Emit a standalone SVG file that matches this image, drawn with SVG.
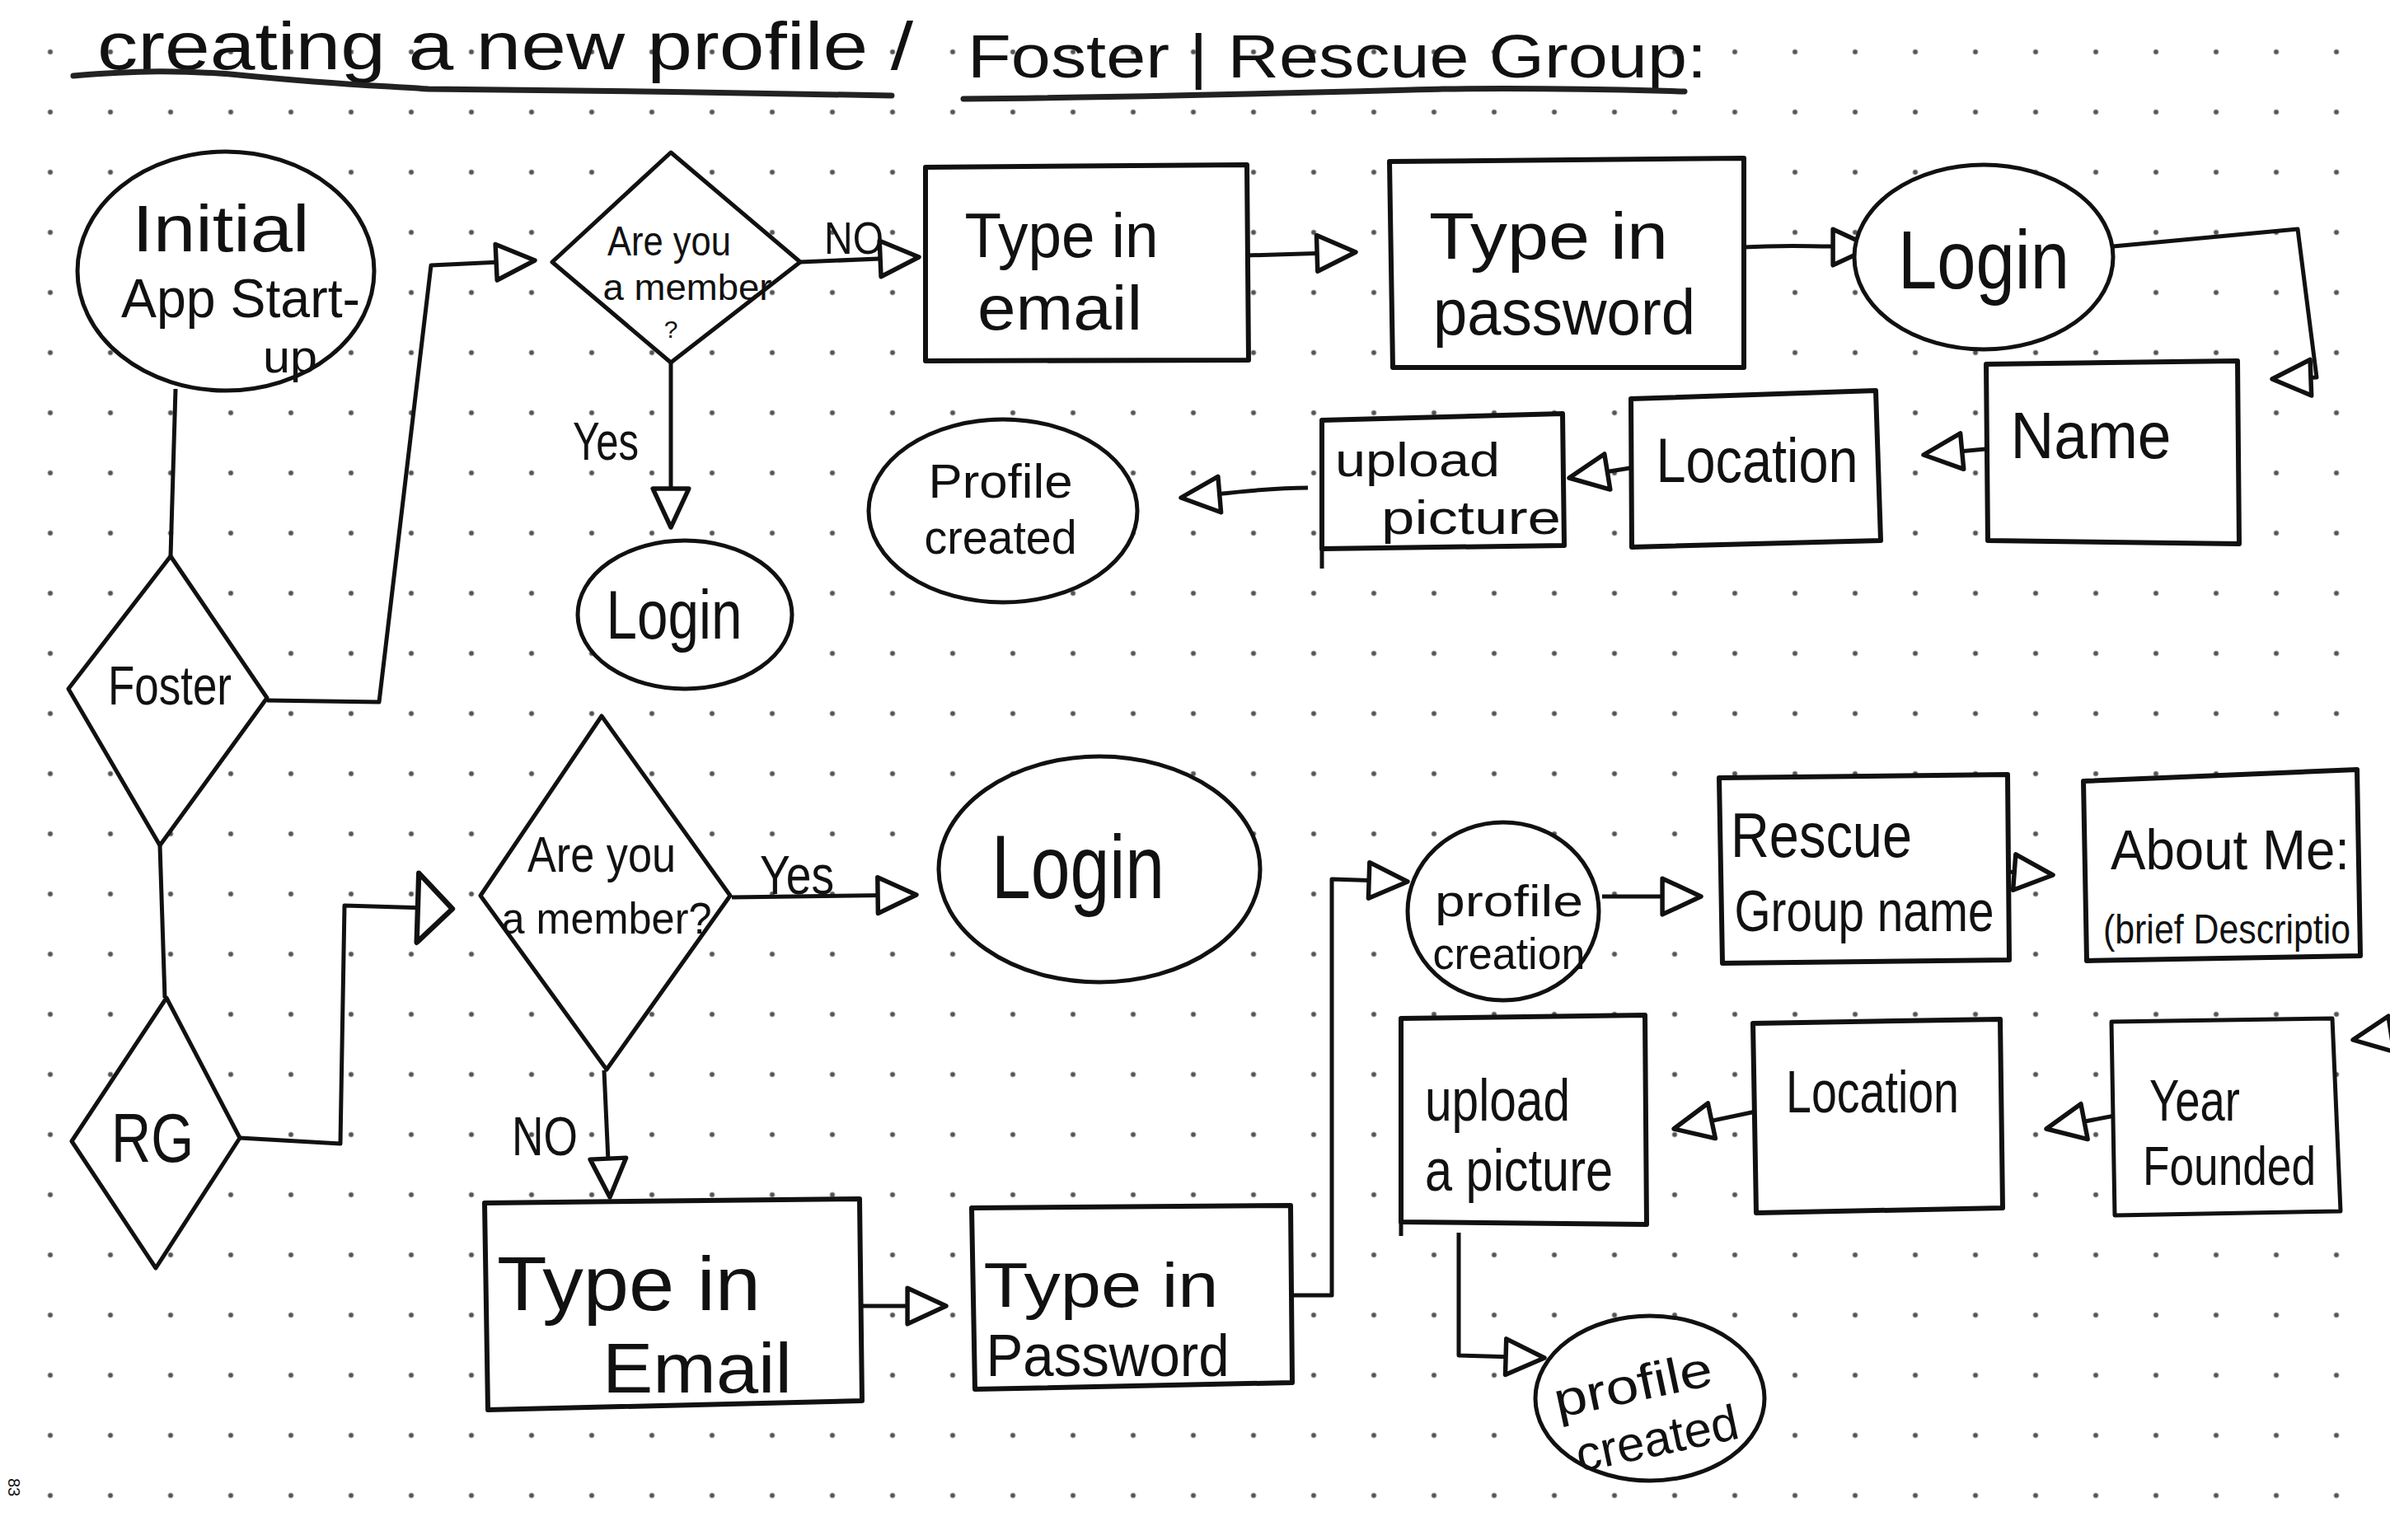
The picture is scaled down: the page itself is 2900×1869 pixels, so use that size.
<svg xmlns="http://www.w3.org/2000/svg" width="2900" height="1869" viewBox="0 0 2900 1869">
<defs>
<pattern id="dots" x="24.5" y="26.5" width="73" height="73" patternUnits="userSpaceOnUse">
<circle cx="36.5" cy="36.5" r="3" fill="#555"/>
</pattern>
<marker id="ah" markerUnits="userSpaceOnUse" markerWidth="60" markerHeight="60" viewBox="-5 -5 55 55" refX="45" refY="22" orient="auto">
<path d="M2,2 L45,22 L2,42 Z" fill="#fff" stroke="#111" stroke-width="5" stroke-linejoin="round"/>
</marker>
<marker id="ahL" markerUnits="userSpaceOnUse" markerWidth="60" markerHeight="100" viewBox="-5 -5 55 95" refX="42" refY="42" orient="auto">
<path d="M2,2 L42,42 L2,82 Z" fill="#fff" stroke="#111" stroke-width="6" stroke-linejoin="round"/>
</marker>
<style>
.s{fill:#fff;stroke:#111;stroke-width:5;stroke-linejoin:round}
.b{fill:#fff;stroke:#111;stroke-width:6;stroke-linejoin:round}
.c{fill:none;stroke:#111;stroke-width:5;stroke-linejoin:round;marker-end:url(#ah)}
.n{fill:none;stroke:#111;stroke-width:5;stroke-linejoin:round}
.u{fill:none;stroke:#222;stroke-width:7;stroke-linecap:round}
text{font-family:'Liberation Sans',sans-serif;fill:#111;text-anchor:middle}
.l{text-anchor:start}
</style>
</defs>
<rect width="2900" height="1869" fill="#fff"/>
<rect width="2900" height="1869" fill="url(#dots)"/>

<g id="title">
<text class="l" x="118" y="84" font-size="82" textLength="990" lengthAdjust="spacingAndGlyphs">creating a new profile /</text>
<text class="l" x="1174" y="94" font-size="74" textLength="897" lengthAdjust="spacingAndGlyphs">Foster | Rescue Group:</text>
<path class="u" d="M89,92 C160,86 220,84 300,92 C400,102 460,104 520,108 C700,110 900,112 1082,116"/>
<path class="u" d="M1169,120 C1400,118 1600,112 1750,108 C1900,106 2000,110 2044,111"/>
</g>

<g id="connectors">
<path class="n" d="M213,472 L207,675"/>
<path class="c" d="M324,850 L460,852 L523,322 L649,316"/>
<path class="c" d="M971,318 L1115,312"/>
<path class="c" d="M814,440 L814,640"/>
<path class="c" d="M1513,310 L1645,306"/>
<path class="c" d="M2116,300 C2180,296 2220,300 2271,300"/>
<path class="c" d="M2564,299 L2788,278 L2811,458 L2757,460"/>
<path class="c" d="M2409,545 L2334,552"/>
<path class="c" d="M1978,568 L1904,580"/>
<path class="c" d="M1587,592 C1530,592 1480,600 1433,604"/>
<path class="n" d="M194,1026 L200,1211"/>
<path style="fill:none;stroke:#111;stroke-width:5;stroke-linejoin:round;marker-end:url(#ahL)" d="M291,1381 L413,1388 L418,1099 L549,1103"/>
<path class="c" d="M888,1089 L1112,1086"/>
<path class="c" d="M733,1299 L740,1453"/>
<path class="c" d="M1046,1585 L1148,1585"/>
<path class="c" d="M1568,1572 L1616,1572 L1616,1067 L1708,1070"/>
<path class="c" d="M1944,1088 L2064,1088"/>
<path class="c" d="M2437,1058 L2491,1062"/>
<path class="c" d="M2900,1255 L2855,1262"/>
<path class="c" d="M2566,1354 L2483,1370"/>
<path class="c" d="M2135,1348 L2031,1370"/>
<path class="c" d="M1770,1496 L1770,1645 L1874,1648"/>
</g>

<g id="n-initial">
<ellipse class="s" cx="274" cy="329" rx="180" ry="145"/>
<text x="268" y="305" font-size="80" textLength="215" lengthAdjust="spacingAndGlyphs">Initial</text>
<text x="292" y="385" font-size="66" textLength="290" lengthAdjust="spacingAndGlyphs">App Start-</text>
<text x="352" y="452" font-size="56" textLength="66" lengthAdjust="spacingAndGlyphs">up</text>
</g>

<g id="n-foster">
<path class="s" d="M207,675 L324,847 L194,1026 L83,836 Z"/>
<text x="206" y="855" font-size="66" textLength="150" lengthAdjust="spacingAndGlyphs">Foster</text>
</g>

<g id="n-member1">
<path class="s" d="M814,185 L971,318 L814,440 L670,318 Z"/>
<text x="812" y="310" font-size="50" textLength="150" lengthAdjust="spacingAndGlyphs">Are you</text>
<text x="834" y="364" font-size="44" textLength="205" lengthAdjust="spacingAndGlyphs">a member</text>
<text x="814" y="410" font-size="30">?</text>
<text x="1036" y="308" font-size="56" textLength="72" lengthAdjust="spacingAndGlyphs">NO</text>
<text x="735" y="558" font-size="64" textLength="80" lengthAdjust="spacingAndGlyphs">Yes</text>
</g>

<g id="n-login1">
<ellipse class="s" cx="831" cy="746" rx="130" ry="90"/>
<text x="818" y="775" font-size="84" textLength="165" lengthAdjust="spacingAndGlyphs">Login</text>
</g>

<g id="n-email1">
<path class="b" d="M1123,203 L1513,200 L1515,437 L1123,438 Z"/>
<text x="1288" y="312" font-size="76" textLength="235" lengthAdjust="spacingAndGlyphs">Type in</text>
<text x="1286" y="400" font-size="76" textLength="200" lengthAdjust="spacingAndGlyphs">email</text>
</g>

<g id="n-password1">
<path class="b" d="M1686,196 L2116,192 L2116,446 L1690,446 Z"/>
<text x="1879" y="314" font-size="80" textLength="290" lengthAdjust="spacingAndGlyphs">Type in</text>
<text x="1898" y="406" font-size="78" textLength="318" lengthAdjust="spacingAndGlyphs">password</text>
</g>

<g id="n-login2">
<ellipse class="s" cx="2407" cy="312" rx="157" ry="112"/>
<text x="2407" y="350" font-size="100" textLength="208" lengthAdjust="spacingAndGlyphs">Login</text>
</g>

<g id="n-name1">
<path class="b" d="M2410,442 L2715,438 L2717,660 L2412,656 Z"/>
<text x="2537" y="556" font-size="80" textLength="195" lengthAdjust="spacingAndGlyphs">Name</text>
</g>

<g id="n-location1">
<path class="b" d="M1979,484 L2276,474 L2282,656 L1980,664 Z"/>
<text x="2132" y="585" font-size="76" textLength="245" lengthAdjust="spacingAndGlyphs">Location</text>
</g>

<g id="n-upload1">
<path class="b" d="M1604,510 L1896,502 L1898,662 L1604,666 Z"/>
<path class="n" d="M1604,666 L1604,690"/>
<text x="1720" y="578" font-size="58" textLength="200" lengthAdjust="spacingAndGlyphs">upload</text>
<text x="1785" y="648" font-size="58" textLength="218" lengthAdjust="spacingAndGlyphs">picture</text>
</g>

<g id="n-created1">
<ellipse class="s" cx="1217" cy="620" rx="163" ry="111"/>
<text x="1214" y="604" font-size="58" textLength="175" lengthAdjust="spacingAndGlyphs">Profile</text>
<text x="1214" y="672" font-size="58" textLength="185" lengthAdjust="spacingAndGlyphs">created</text>
</g>

<g id="n-rg">
<path class="s" d="M202,1211 L291,1381 L189,1539 L87,1385 Z"/>
<text x="185" y="1410" font-size="84" textLength="100" lengthAdjust="spacingAndGlyphs">RG</text>
</g>

<g id="n-member2">
<path class="s" d="M730,869 L886,1087 L736,1298 L583,1087 Z"/>
<text x="730" y="1058" font-size="62" textLength="180" lengthAdjust="spacingAndGlyphs">Are you</text>
<text x="736" y="1133" font-size="54" textLength="255" lengthAdjust="spacingAndGlyphs">a member?</text>
<text x="967" y="1085" font-size="66" textLength="90" lengthAdjust="spacingAndGlyphs">Yes</text>
<text x="661" y="1402" font-size="66" textLength="80" lengthAdjust="spacingAndGlyphs">NO</text>
</g>

<g id="n-login3">
<ellipse class="s" cx="1334" cy="1055" rx="195" ry="137"/>
<text x="1308" y="1090" font-size="110" textLength="210" lengthAdjust="spacingAndGlyphs">Login</text>
</g>

<g id="n-email2">
<path class="b" d="M588,1460 L1043,1455 L1046,1700 L592,1711 Z"/>
<text x="763" y="1590" font-size="92" textLength="320" lengthAdjust="spacingAndGlyphs">Type in</text>
<text x="846" y="1690" font-size="86" textLength="230" lengthAdjust="spacingAndGlyphs">Email</text>
</g>

<g id="n-password2">
<path class="b" d="M1179,1466 L1566,1463 L1568,1678 L1183,1686 Z"/>
<text x="1336" y="1586" font-size="76" textLength="285" lengthAdjust="spacingAndGlyphs">Type in</text>
<text x="1344" y="1670" font-size="72" textLength="295" lengthAdjust="spacingAndGlyphs">Password</text>
</g>

<g id="n-creation">
<ellipse class="s" cx="1824" cy="1106" rx="116" ry="108"/>
<text x="1831" y="1112" font-size="54" textLength="180" lengthAdjust="spacingAndGlyphs">profile</text>
<text x="1831" y="1176" font-size="54" textLength="185" lengthAdjust="spacingAndGlyphs">creation</text>
</g>

<g id="n-rescue">
<path class="b" d="M2086,944 L2436,940 L2438,1165 L2090,1169 Z"/>
<text x="2210" y="1040" font-size="76" textLength="220" lengthAdjust="spacingAndGlyphs">Rescue</text>
<text x="2262" y="1130" font-size="70" textLength="315" lengthAdjust="spacingAndGlyphs">Group name</text>
</g>

<g id="n-about">
<path class="b" d="M2528,948 L2860,934 L2864,1160 L2532,1166 Z"/>
<text x="2706" y="1055" font-size="68" textLength="290" lengthAdjust="spacingAndGlyphs">About Me:</text>
<text x="2702" y="1145" font-size="50" textLength="300" lengthAdjust="spacingAndGlyphs">(brief Descriptio</text>
</g>

<g id="n-year">
<path class="s" d="M2562,1240 L2830,1236 L2840,1470 L2566,1475 Z"/>
<text x="2663" y="1360" font-size="70" textLength="110" lengthAdjust="spacingAndGlyphs">Year</text>
<text x="2705" y="1438" font-size="66" textLength="210" lengthAdjust="spacingAndGlyphs">Founded</text>
</g>

<g id="n-location2">
<path class="b" d="M2127,1242 L2427,1237 L2430,1466 L2131,1472 Z"/>
<text x="2272" y="1350" font-size="72" textLength="210" lengthAdjust="spacingAndGlyphs">Location</text>
</g>

<g id="n-upload2">
<path class="b" d="M1700,1236 L1996,1232 L1998,1486 L1700,1483 Z"/>
<path class="n" d="M1700,1483 L1700,1500"/>
<text x="1817" y="1360" font-size="72" textLength="176" lengthAdjust="spacingAndGlyphs">upload</text>
<text x="1843" y="1445" font-size="72" textLength="228" lengthAdjust="spacingAndGlyphs">a picture</text>
</g>

<g id="n-created2">
<ellipse class="s" cx="2002" cy="1697" rx="139" ry="100"/>
<g transform="rotate(-12 2000 1720)">
<text x="1990" y="1698" font-size="60" textLength="195" lengthAdjust="spacingAndGlyphs">profile</text>
<text x="2005" y="1768" font-size="60" textLength="200" lengthAdjust="spacingAndGlyphs">created</text>
</g>
</g>

<text x="10" y="1805" font-size="20" transform="rotate(90 10 1805)">83</text>
</svg>
